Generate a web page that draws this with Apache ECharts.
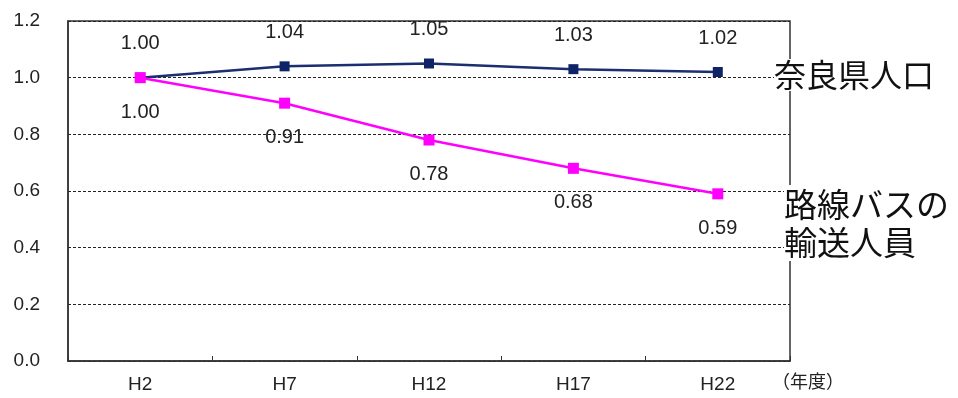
<!DOCTYPE html>
<html>
<head>
<meta charset="utf-8">
<script src="https://cdn.jsdelivr.net/npm/echarts@6/dist/echarts.min.js"></script>
<style>
  html, body { margin: 0; padding: 0; background: #fff; }
  #chart { width: 958px; height: 398px; }
</style>
</head>
<body>
<div id="chart"></div>
<script>
// Fiscal years (Heisei era)
const years = ['H2', 'H7', 'H12', 'H17', 'H22'];
// Index relative to H2 = 1.00
const population = [1.00, 1.04, 1.05, 1.03, 1.02];
const busRiders = [1.00, 0.91, 0.78, 0.68, 0.59];
const yTicks = [0, 0.2, 0.4, 0.6, 0.8, 1.0, 1.2];

const numFont = 'Liberation Sans, Arial, sans-serif';
const jpFont = '"Noto Sans CJK JP", sans-serif';

const chart = echarts.init(document.getElementById('chart'), null, { renderer: 'canvas' });

chart.setOption({
  animation: false,
  backgroundColor: '#fff',
  grid: {
    left: 68, right: 168, top: 21, bottom: 37,
    show: true, borderColor: '#333', borderWidth: 1.5, backgroundColor: 'transparent'
  },
  xAxis: {
    type: 'category',
    data: years,
    boundaryGap: true,
    axisLine: { lineStyle: { color: '#333', width: 1.5 } },
    axisTick: { show: true, inside: true, length: 5, lineStyle: { color: '#333' } },
    axisLabel: { color: '#222', fontSize: 19, fontFamily: numFont, margin: 14 }
  },
  yAxis: {
    type: 'value',
    min: yTicks[0],
    max: yTicks[yTicks.length - 1],
    interval: 0.2,
    axisLine: { show: true, lineStyle: { color: '#333', width: 1.5 } },
    axisTick: { show: false },
    axisLabel: {
      color: '#222', fontSize: 19, fontFamily: numFont, margin: 28,
      formatter: v => v.toFixed(1)
    },
    splitLine: { show: true, lineStyle: { color: '#222', width: 1, type: [3, 2] } }
  },
  series: [
    {
      name: '奈良県人口',
      type: 'line',
      data: population,
      symbol: 'rect',
      symbolSize: 10,
      itemStyle: { color: '#0f2466' },
      lineStyle: { color: '#1a2e70', width: 2.5 },
      label: {
        show: true, position: 'top', distance: 19,
        color: '#222', fontSize: 20, fontFamily: numFont,
        formatter: p => p.value.toFixed(2)
      },
      z: 2
    },
    {
      name: '路線バスの輸送人員',
      type: 'line',
      data: busRiders,
      symbol: 'rect',
      symbolSize: 11,
      itemStyle: { color: '#ff00ff' },
      lineStyle: { color: '#ff00ff', width: 2.5 },
      label: {
        show: true, position: 'bottom', distance: 19,
        color: '#222', fontSize: 20, fontFamily: numFont,
        formatter: p => p.value.toFixed(2)
      },
      z: 3
    }
  ],
  graphic: [
    {
      type: 'text', left: 774, top: 59, z: 100,
      style: {
        text: '奈良県人口', fontSize: 32, fontFamily: jpFont, fill: '#111',
        backgroundColor: '#fff'
      }
    },
    {
      type: 'text', left: 784, top: 185, z: 100,
      style: {
        text: '路線バスの\n輸送人員', fontSize: 33, lineHeight: 38, fontFamily: jpFont, fill: '#111',
        backgroundColor: '#fff'
      }
    },
    {
      type: 'text', left: 772, top: 372, z: 100,
      style: { text: '（年度）', fontSize: 18, fontFamily: jpFont, fill: '#222' }
    }
  ]
});
</script>
</body>
</html>
